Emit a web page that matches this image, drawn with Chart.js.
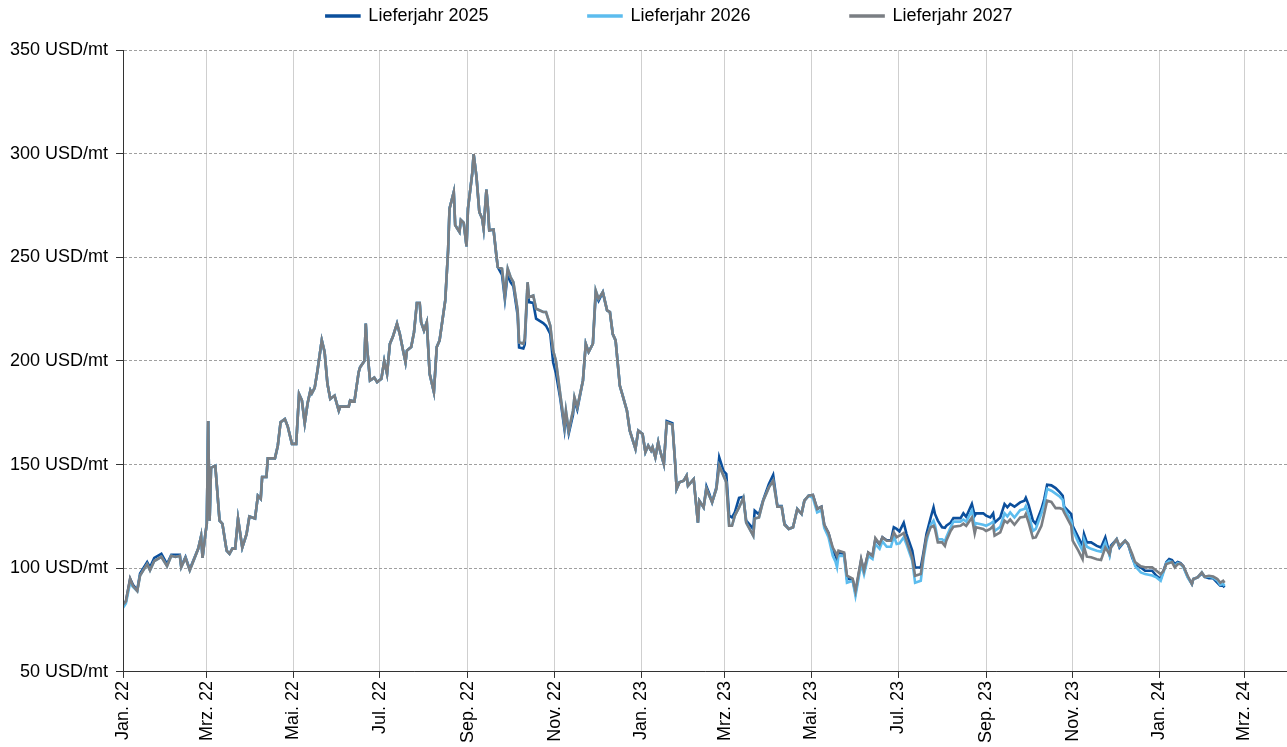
<!DOCTYPE html>
<html>
<head>
<meta charset="utf-8">
<script src="https://cdn.jsdelivr.net/npm/chart.js@4.4.1/dist/chart.umd.min.js"></script>
<style>
html, body { margin: 0; padding: 0; background: #fff; }
#wrap { width: 1287px; height: 747px; }
</style>
</head>
<body>
<div id="wrap"><canvas id="myChart"></canvas></div>
<script>
// days since 1 Jan 2022
const days = [
0,2,5,7,10,12,17,19,22,27,
31,34,37,40,41,44,47,53,55,56,
58,59,60,61,62,65,68,70,73,75,
77,79,81,84,87,89,93,95,97,98,
101,102,107,109,111,114,116,119,122,124,
126,128,130,132,133,135,137,140,142,144,
146,149,152,153,159,160,163,166,167,170,
171,172,174,177,179,182,184,186,188,190,
193,195,197,199,200,203,205,207,209,210,
212,214,216,219,221,223,227,229,230,233,
234,237,238,240,242,243,246,247,249,251,
253,254,256,257,258,261,263,264,267,269,
271,273,275,278,279,282,283,285,286,289,
291,296,298,301,303,305,308,311,312,314,
317,318,320,324,326,328,331,333,335,338,
341,343,345,347,350,352,355,357,361,363,
366,368,370,372,373,375,377,378,381,383,
387,389,390,392,395,397,398,402,405,406,
409,411,413,415,418,420,423,425,427,429,
431,434,437,439,444,445,448,451,455,458,
461,464,466,469,472,475,478,480,483,486,
489,492,494,497,500,502,503,504,508,510,
514,516,520,522,525,528,530,533,535,538,
541,543,545,547,550,552,556,558,562,564,
566,569,571,572,574,577,579,580,583,585,
590,592,594,598,600,601,606,608,611,613,
614,618,621,623,625,628,632,635,636,638,
641,643,647,649,651,654,657,660,662,663,
668,669,673,676,677,679,682,686,689,692,
695,696,700,702,706,708,711,713,717,720,
725,728,731,733,735,737,739,741,743,745,
747,750,753,754,757,760,762,765,768,771,
773,775,776
];

const lj2025 = [
82.5,84,95,92,89.5,97.5,103,100.5,105,107,
102,106.5,106.5,106.5,101,105.5,99.5,109.5,115.5,105,
116.5,121.5,171,123,148.5,149.5,123,121.5,108.5,107,
109.5,109.5,124,110,116.5,125,124,135,133.5,144,
144,153,153,159,170.5,172,168.5,160,160,184,
181,170,179.5,185.8,184.4,187,195.4,210,204.3,189,
181.7,183.3,176,178,178,181,180.5,194.6,197,200,
218,206,190.6,192,189.8,191.4,200,193.8,208.3,211.5,
218,213,206,199.4,205,206.7,213.9,228,228,218.7,
214.7,218.7,193.8,185,206.7,209.9,229.2,253.4,273.5,281.5,
265.5,262.2,268,266.6,255.3,273.5,290.4,299.8,288.8,271.9,
268.7,263.9,282.7,274.3,263,263.4,251,245.3,241.5,229.7,
242,238,236,222,206.5,206,208,236,228.4,228,
220.4,218.3,217,213,199.4,194,182,167,174,165,
174,181,176.5,190.6,208.3,204.3,208.3,232,229,233.2,
224.4,223.6,213,209.9,188,183.3,176,166.4,157.6,166.4,
164.8,156,159.2,156.8,158.4,153.5,160.8,157.6,150.3,171,
170,150.3,138.3,141.5,142.3,144.7,139.8,143,122,132.6,
129.4,139.5,136,131.8,139,153.5,147,145.5,125.4,124.5,
127,134,134.5,123,119,127.8,126,133,140.7,145,
130,130,121.5,119,119.8,128.6,126.2,132.6,135,135.4,
128.6,129.7,121,117,109,106,104,107.5,107,95,
94.5,88,104,98.5,107.5,106,114,111.5,115,113.5,
113.5,119.8,119,117.8,122,116.5,108.5,100.4,100.4,108,
116.5,124.5,129.4,126.2,123,119.8,119.5,120.5,122,124.2,
124.2,126.5,124.8,131,125.4,126.5,126.5,125.4,124.5,126.5,
122,124.5,131,129.4,131,129.7,131.8,132.6,134,130.5,
123,121.5,128.6,133.4,140.3,140,138.7,136.6,135,129.7,
126.2,120.5,114.9,110.8,116.5,112.5,112.5,110.8,110,114.9,
106.8,111,114,110,113.3,111.7,105,101.8,100.4,98.8,
98.8,96.4,94.8,98.8,103,104.5,104,102,103,102.5,
101,95.9,92.4,94.8,95.6,97.5,95.9,95.2,95.2,93,
91.6,91.6,90.8
];

const lj2026 = [
81,83,93,91,89,96.5,102,99,103.5,105.5,
101,106,105.5,106,100.5,105,99,109.5,115.5,105,
116.5,121.5,171,123,148.5,149.5,123,121.5,108.5,107,
109.5,109.5,124,110,116.5,125,124,135,133.5,144,
144,153,153,159,170.5,172,168.5,160,160,184,
181,170,179.5,185.8,184.4,187,195.4,210,204.3,189,
181.7,183.3,176,178,178,181,180.5,194.6,197,200,
218,206,190.6,192,189.8,191.4,200,193.8,208.3,211.5,
218,213,206,199.4,205,206.7,213.9,228,228,218.7,
214.7,218.7,193.8,185,206.7,209.9,229.2,253.4,273.5,281.5,
265.5,262.2,268,266.6,255.3,273.5,290.4,299.8,288.8,271.9,
268.7,263.9,282.7,274.3,263,263.4,251,245.3,244.5,231.6,
244.5,240.5,238,224.4,209,208.3,210.7,238,230.8,231.6,
225.2,223.6,223.6,217,205,200,184,168.8,176,166.4,
176,182.5,177.7,190.6,208.3,204.3,208.3,234,230,233.2,
224.4,223.6,213,209.9,188,183.3,176,166.4,157.6,166.4,
164.8,156,159.2,156.8,158.4,153.5,160.8,157.6,150.3,170.4,
169.3,150.3,138.3,141.5,142.3,144.7,139.8,143,122,132.6,
129.4,138.3,135,131.8,138.3,149.5,144.7,141.5,120.5,120.5,
125.4,129.4,134,122,115.7,124,124.5,132.6,139,142.3,
129.7,129.7,121,119,119.8,128.6,126.2,132.6,135,134,
127,128,119.5,115,106,103,100.5,106,106,93,
94,86.7,102,97,106,104.5,111.7,109.4,113,110.4,
110.4,115.5,111.7,112,115,111.5,103.6,93,94,105,
113,121,123,121,114,114,113,115,119.8,122.5,
122.5,123.5,122.5,127.8,120.5,121.7,121,120.5,121.5,122.5,
118,120,126.5,125,127,124.5,128,128.6,130,126,
118,119,126.5,131,138.3,137.4,136,134.5,133,129,
123,118.8,112.5,108.5,114,110.4,109.4,108.5,108,112.5,
106,110,114,110.5,113.3,111.7,105.8,101,98,97.2,
96.5,95.6,94,98,102.5,103.5,103,101,102.5,102,
100.5,95.6,92.4,94.8,95.6,98,95.9,96,95.5,94,
92,92.5,91.5
];

const lj2027 = [
82.5,84,95,91.5,89,96.5,102,99,103.5,105.5,
101,106,105.5,106,100.5,105,99,109.5,115.5,105,
116.5,121.5,171,123,148.5,149.5,123,121.5,108.5,107,
109.5,109.5,124,110,116.5,125,124,135,133.5,144,
144,153,153,159,170.5,172,168.5,160,160,184,
181,170,179.5,185.8,184.4,187,195.4,210,204.3,189,
181.7,183.3,176,178,178,181,180.5,194.6,197,200,
218,206,190.6,192,189.8,191.4,200,193.8,208.3,211.5,
218,213,206,199.4,205,206.7,213.9,228,228,218.7,
214.7,218.7,193.8,185,206.7,209.9,229.2,253.4,273.5,281.5,
265.5,262.2,268,266.6,255.3,273.5,290.4,299.8,288.8,271.9,
268.7,263.9,282.7,274.3,263,263.4,251,245.3,244.5,231.6,
244.5,240.5,238,224.4,209,208.3,210.7,238,230.8,231.6,
225.2,223.6,223.6,217,205,200,184,168.8,176,166.4,
176,182.5,177.7,190.6,208.3,204.3,208.3,234,230,233.2,
224.4,223.6,213,209.9,188,183.3,176,166.4,157.6,166.4,
164.8,156,159.2,156.8,158.4,153.5,160.8,157.6,150.3,170.4,
169.3,150.3,138.3,141.5,142.3,144.7,139.8,143,122,132.6,
129.4,138.3,135,131.8,138.3,149.5,144.7,141.5,120.5,120.5,
125.4,129.4,134,122,115.7,124,124.5,132.6,139,142.3,
129.7,129.7,121,119,119.8,128.6,126.2,132.6,135,135.4,
128.6,129.7,121,117,110,107.6,106,108.5,107.6,96.4,
95,89,104.4,98.8,107.6,106,114.6,111.7,114.9,113.3,
113.3,117.3,115,115.7,117,113.3,105,96.4,97.2,106.8,
115,119.8,120.5,119,112.5,112.5,110.8,113.3,118,120,
120.5,121.5,120.5,124.5,116.8,119.8,119,118,119,120.5,
115.7,117.3,123,122,123.5,121,124.5,124.8,126.2,122,
114.6,114.9,120.5,126.5,132.6,132,129,129,128.5,127,
120.5,113.3,108.5,104.4,110.4,105.6,105.3,104.4,104,110,
106.8,110,114,110.8,113.3,111.7,106.8,103,101,100.5,
100.5,98.8,97.2,98.8,102,102.5,103,100.4,102,102.2,
101,96.4,92.4,94.8,95.6,98,95.9,96.4,96,94.8,
93,94,93
];

const tickDays = [0,59,120,181,243,304,365,424,485,546,608,669,730,790];
const tickLabels = ['Jan. 22','Mrz. 22','Mai. 22','Jul. 22','Sep. 22','Nov. 22','Jan. 23','Mrz. 23','Mai. 23','Jul. 23','Sep. 23','Nov. 23','Jan. 24','Mrz. 24'];
const yTicks = [50,100,150,200,250,300,350];

const toPoints = (arr) => days.map((d, i) => ({x: d, y: arr[i]}));

// legend sits a bit right of the centre and tight to the top
const legendShift = {
    id: 'legendShift',
    afterLayout(chart) {
        const lg = chart.legend;
        lg.left += 25;
        lg.right += 25;
        lg.top = -93;
    }
};

Chart.defaults.font.family = "'Liberation Sans', Arial, sans-serif";
Chart.defaults.font.size = 18;
Chart.defaults.color = '#000';

const ctx = document.getElementById('myChart').getContext('2d');
const chart = new Chart(ctx, {
    type: 'line',
    data: {
        datasets: [{
            label: 'Lieferjahr 2025',
            data: toPoints(lj2025),
            borderColor: '#0b4f9c',
            backgroundColor: '#0b4f9c',
            order: 3
        }, {
            label: 'Lieferjahr 2026',
            data: toPoints(lj2026),
            borderColor: '#5cbcee',
            backgroundColor: '#5cbcee',
            order: 2
        }, {
            label: 'Lieferjahr 2027',
            data: toPoints(lj2027),
            borderColor: '#7a7e83',
            backgroundColor: '#7a7e83',
            order: 1
        }]
    },
    options: {
        responsive: true,
        maintainAspectRatio: false,
        animation: false,
        elements: {
            line: { borderWidth: 2.6, tension: 0 },
            point: { radius: 0 }
        },
        layout: { padding: { left: 2, right: 0, top: 0, bottom: 1 } },
        plugins: {
            tooltip: { enabled: false },
            legend: {
                position: 'top',
                maxHeight: 50,
                labels: {
                    boxWidth: 33,
                    boxHeight: 1,
                    padding: 100,
                    sort: (a, b) => a.datasetIndex - b.datasetIndex
                }
            }
        },
        scales: {
            x: {
                type: 'linear',
                min: 0,
                max: 820,
                afterBuildTicks: (scale) => { scale.ticks = tickDays.map(v => ({value: v})); },
                ticks: {
                    autoSkip: false,
                    minRotation: 90,
                    maxRotation: 90,
                    padding: 3,
                    callback: (value) => tickLabels[tickDays.indexOf(value)]
                },
                grid: { color: '#cfcfcf', tickColor: '#333', tickLength: 6 },
                border: { color: '#333', z: 1 }
            },
            y: {
                min: 50,
                max: 350,
                afterBuildTicks: (scale) => { scale.ticks = yTicks.map(v => ({value: v})); },
                ticks: {
                    padding: 8,
                    callback: (value) => value + ' USD/mt'
                },
                grid: { color: '#a0a0a0', tickColor: '#333', tickLength: 7 },
                border: { color: '#333', dash: [3, 2], z: 1 }
            }
        }
    },
    plugins: [legendShift]
});
</script>
</body>
</html>
